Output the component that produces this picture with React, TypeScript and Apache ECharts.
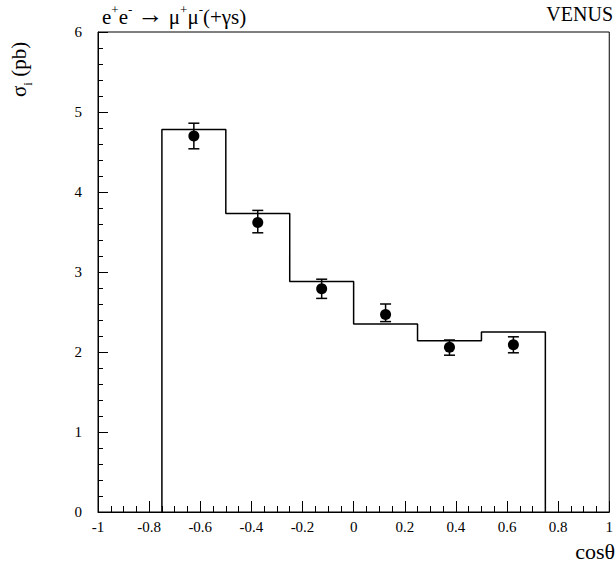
import React, { useEffect, useRef } from "react";
import * as echarts from "echarts";

const binEdges = [-0.75, -0.5, -0.25, 0, 0.25, 0.5, 0.75];
const histValues = [4.78, 3.73, 2.88, 2.35, 2.14, 2.25];
const pointX = [-0.625, -0.375, -0.125, 0.125, 0.375, 0.625];
const pointY = [4.7, 3.62, 2.79, 2.47, 2.06, 2.09];
const errLow = [4.54, 3.49, 2.67, 2.38, 1.96, 1.99];
const errHigh = [4.86, 3.77, 2.91, 2.6, 2.15, 2.19];

const FONT = "Liberation Serif";

export default function App() {
  const ref = useRef<HTMLDivElement>(null);
  useEffect(() => {
    if (!ref.current) return;
    const chart = echarts.init(ref.current, undefined, { renderer: "svg" });
    const histLine: number[][] = [];
    histLine.push([binEdges[0], 0]);
    histValues.forEach((v, i) => {
      histLine.push([binEdges[i], v]);
      histLine.push([binEdges[i + 1], v]);
    });
    histLine.push([binEdges[binEdges.length - 1], 0]);

    const errData = pointX.map((x, i) => [x, errLow[i], errHigh[i]]);
    const pts = pointX.map((x, i) => [x, pointY[i]]);

    chart.setOption({
      animation: false,
      textStyle: { fontFamily: FONT },
      grid: {
        left: 98,
        top: 32,
        width: 515.5,
        height: 480,
        show: true,
        borderColor: "#000",
        borderWidth: 1,
        backgroundColor: "transparent",
      },
      xAxis: {
        type: "value",
        min: -1,
        max: 1,
        interval: 0.2,
        axisLine: { show: true, onZero: false, lineStyle: { color: "#000", width: 1 } },
        axisTick: { show: true, inside: true, length: 11, lineStyle: { color: "#000" } },
        minorTick: { show: true, splitNumber: 4, length: 6, lineStyle: { color: "#000" } },
        splitLine: { show: false },
        axisLabel: {
          color: "#000",
          fontFamily: FONT,
          fontSize: 15,
          margin: 7,
          formatter: (v: number) => String(Number(v.toFixed(1))),
        },
      },
      yAxis: {
        type: "value",
        min: 0,
        max: 6,
        interval: 1,
        axisLine: { show: true, onZero: false, lineStyle: { color: "#000", width: 1 } },
        axisTick: { show: true, inside: true, length: 10, lineStyle: { color: "#000" } },
        minorTick: { show: true, splitNumber: 5, length: 5, lineStyle: { color: "#000" } },
        splitLine: { show: false },
        axisLabel: {
          color: "#000",
          fontFamily: FONT,
          fontSize: 15,
          margin: 16,
        },
      },
      series: [
        {
          type: "line",
          data: histLine,
          symbol: "none",
          lineStyle: { color: "#000", width: 1.5 },
          z: 2,
        },
        {
          type: "custom",
          data: errData,
          z: 3,
          renderItem: (params: any, api: any) => {
            const x = api.value(0);
            const lo = api.coord([x, api.value(1)]);
            const hi = api.coord([x, api.value(2)]);
            const cw = 5.5;
            const st = { stroke: "#000", lineWidth: 1.5 };
            return {
              type: "group",
              children: [
                { type: "line", shape: { x1: lo[0], y1: lo[1], x2: hi[0], y2: hi[1] }, style: st },
                { type: "line", shape: { x1: lo[0] - cw, y1: lo[1], x2: lo[0] + cw, y2: lo[1] }, style: st },
                { type: "line", shape: { x1: hi[0] - cw, y1: hi[1], x2: hi[0] + cw, y2: hi[1] }, style: st },
              ],
            };
          },
        },
        {
          type: "scatter",
          data: pts,
          symbol: "circle",
          symbolSize: 11,
          itemStyle: { color: "#000", opacity: 1 },
          z: 4,
        },
      ],
      graphic: [
        {
          type: "text",
          left: 102,
          top: 1,
          style: {
            text: "{b|e}{s|+}{b|e}{s|-}{b| }{a|→}{b| μ}{s|+}{b|μ}{s|-}{b|(+γs)}",
            rich: {
              b: { fontFamily: FONT, fontSize: 21, fill: "#000", lineHeight: 24, verticalAlign: "bottom" },
              a: { fontFamily: FONT, fontSize: 26, fill: "#000", lineHeight: 24, verticalAlign: "bottom" },
              s: { fontFamily: FONT, fontSize: 13, fill: "#000", lineHeight: 24, verticalAlign: "top" },
            },
          },
        },
        {
          type: "text",
          right: 3,
          top: 4,
          style: { text: "VENUS", fontFamily: FONT, fontSize: 20, fill: "#000" },
        },
        {
          type: "text",
          right: 1,
          top: 540,
          style: { text: "cosθ", fontFamily: FONT, fontSize: 22, fill: "#000" },
        },
        {
          type: "text",
          x: 8,
          y: 97,
          rotation: Math.PI / 2,
          style: {
            text: "{b|σ}{s|i}{b| (pb)}",
            rich: {
              b: { fontFamily: FONT, fontSize: 21, fill: "#000", lineHeight: 26, verticalAlign: "top" },
              s: { fontFamily: FONT, fontSize: 13, fill: "#000", lineHeight: 26, verticalAlign: "bottom" },
            },
          },
        },
      ],
    });
    return () => chart.dispose();
  }, []);
  return (
    <div
      ref={ref}
      style={{ position: "absolute", left: 0, top: 0, width: 616, height: 566 }}
    />
  );
}
